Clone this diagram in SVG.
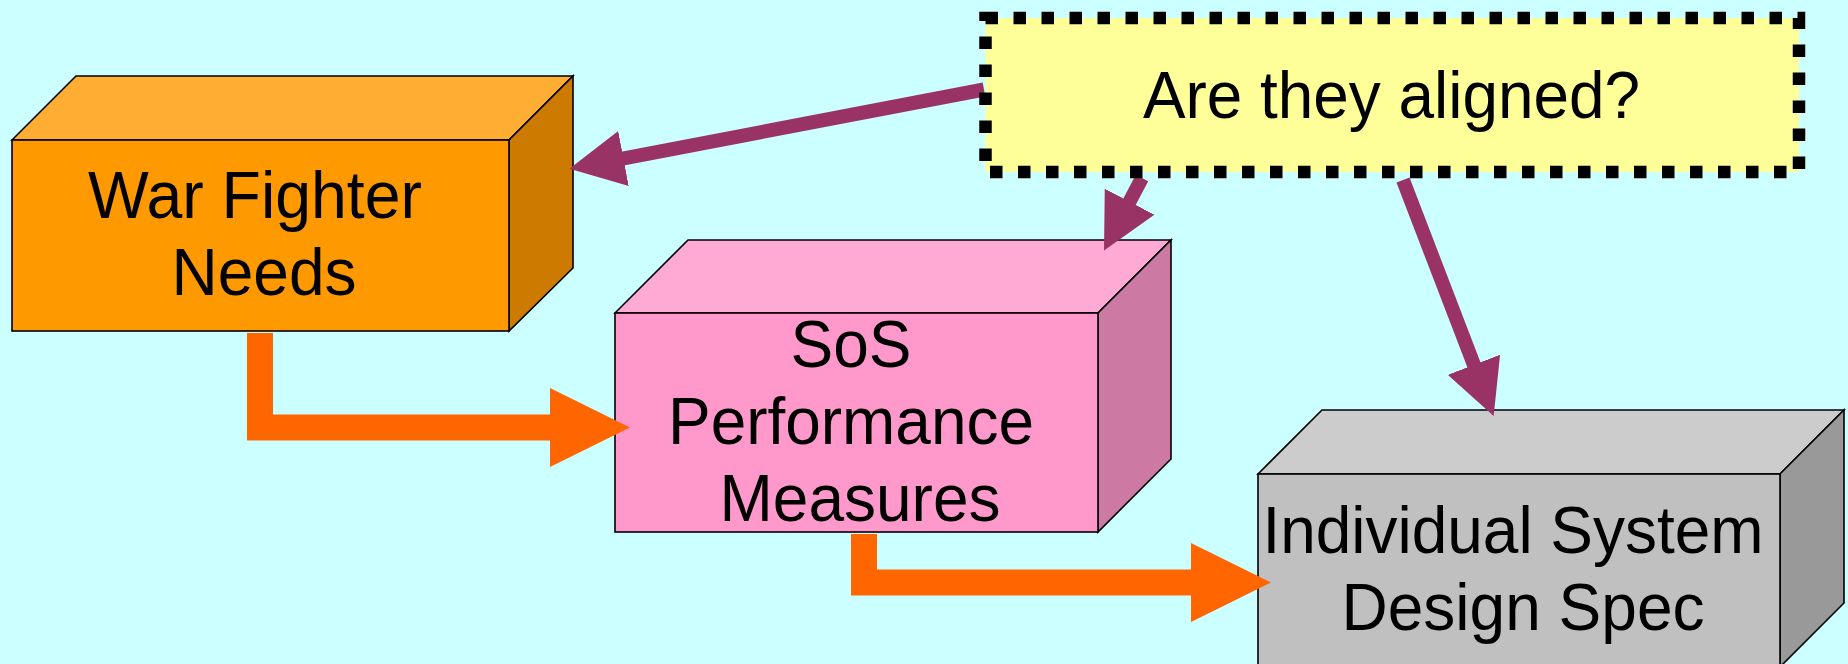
<svg xmlns="http://www.w3.org/2000/svg" width="1848" height="664" viewBox="0 0 1848 664">
<defs>
<style>
.face{stroke:#000;stroke-width:1.6;stroke-linejoin:miter}
.lbl{font-family:"Liberation Sans",Arial,sans-serif;font-size:66px;text-anchor:middle;fill:#000}
.pl{stroke:#993366;stroke-width:14;fill:none;stroke-linecap:butt}
.orange{fill:#FF6600}
</style>
<marker id="ph" markerUnits="userSpaceOnUse" viewBox="0 0 55 56" markerWidth="55" markerHeight="56" refX="1" refY="28" orient="auto">
<path d="M0,0 L55,28 L0,56 Z" fill="#993366"/>
</marker>
</defs>
<rect x="0" y="0" width="1848" height="664" fill="#CCFFFF"/>

<g id="node-warfighter">
<path class="face" d="M12,140 L76,76 L573,76 L509,140 Z" fill="#FFAD33"/>
<path class="face" d="M509,140 L573,76 L573,268 L509,331 Z" fill="#CC7A00"/>
<rect class="face" x="12" y="140" width="497" height="191" fill="#FF9900"/>
<text class="lbl" x="255" y="218" textLength="334" lengthAdjust="spacingAndGlyphs">War Fighter</text>
<text class="lbl" x="264" y="295" textLength="185" lengthAdjust="spacingAndGlyphs">Needs</text>
</g>

<g id="node-sos">
<path class="face" d="M615,313 L688,240 L1171,240 L1098,313 Z" fill="#FFAAD5"/>
<path class="face" d="M1098,313 L1171,240 L1171,459 L1098,532 Z" fill="#CC7AA3"/>
<rect class="face" x="615" y="313" width="483" height="219" fill="#FF99CC"/>
<text class="lbl" x="851" y="367" textLength="121" lengthAdjust="spacingAndGlyphs">SoS</text>
<text class="lbl" x="851" y="444" textLength="366" lengthAdjust="spacingAndGlyphs">Performance</text>
<text class="lbl" x="860" y="521" textLength="281" lengthAdjust="spacingAndGlyphs">Measures</text>
</g>

<g id="node-individual">
<path class="face" d="M1258,474 L1322,410 L1844,410 L1780,474 Z" fill="#CCCCCC"/>
<path class="face" d="M1780,474 L1844,410 L1844,603 L1780,667 Z" fill="#999999"/>
<rect class="face" x="1258" y="474" width="522" height="193" fill="#C0C0C0"/>
<text class="lbl" x="1513" y="553" textLength="501" lengthAdjust="spacingAndGlyphs">Individual System</text>
<text class="lbl" x="1523" y="630" textLength="363" lengthAdjust="spacingAndGlyphs">Design Spec</text>
</g>

<g id="connectors">
<polygon class="orange" points="247,333 273,333 273,414.5 550,414.5 550,388 630,427.5 550,467 550,440.5 247,440.5"/>
<polygon class="orange" points="851,534 877,534 877,569.5 1191,569.5 1191,543 1271,582.5 1191,622 1191,595.5 851,595.5"/>
<line class="pl" x1="984" y1="89.5" x2="622.5" y2="158.7" marker-end="url(#ph)"/>
<line class="pl" x1="1142" y1="178" x2="1129.1" y2="202.6" marker-end="url(#ph)"/>
<line class="pl" x1="1403" y1="180" x2="1474.3" y2="365.7" marker-end="url(#ph)"/>
</g>

<g id="node-question">
<rect x="985.5" y="18" width="813.5" height="154" fill="#FFFF99" stroke="#000" stroke-width="12.5" stroke-dasharray="12.5 15.5"/>
<text class="lbl" x="1391.5" y="118" textLength="497" lengthAdjust="spacingAndGlyphs">Are they aligned?</text>
</g>
</svg>
